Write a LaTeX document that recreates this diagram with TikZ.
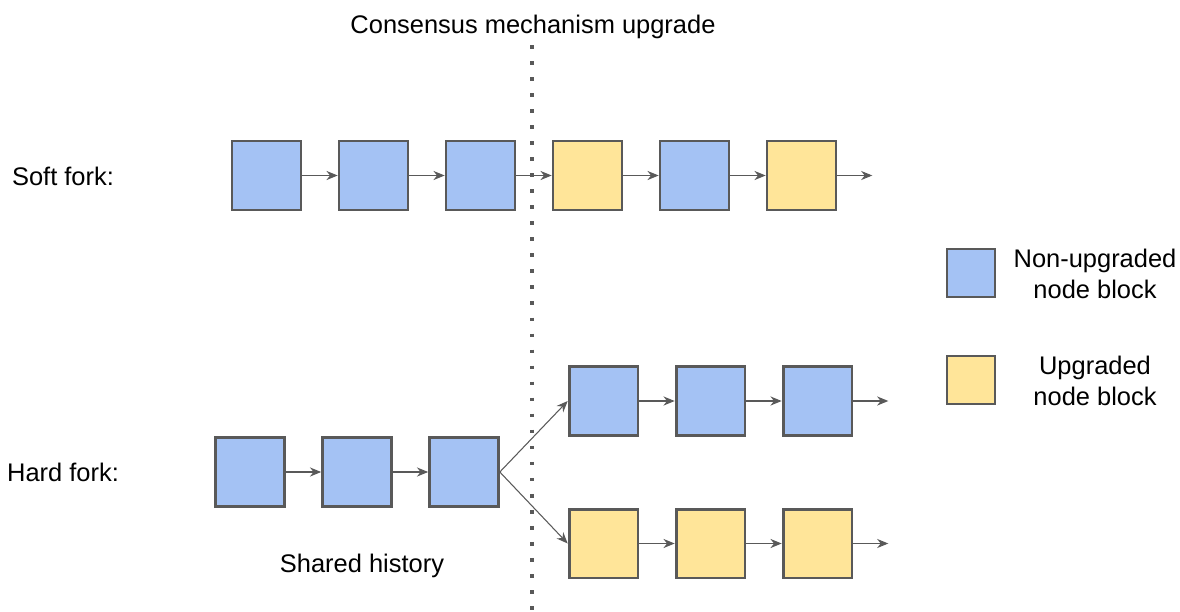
\documentclass[tikz,border=0pt]{standalone}
\usepackage{fontspec}
\setmainfont{Liberation Sans}
\usepackage{tikz}
\usetikzlibrary{arrows.meta, positioning}

\definecolor{oldblue}{HTML}{A4C2F4}
\definecolor{newyellow}{HTML}{FFE599}
\definecolor{edgegray}{HTML}{595959}

\begin{document}
\begin{tikzpicture}[
    x=0.025cm, y=-0.025cm,
    node distance=0.884cm,
    every node/.style={font=\fontsize{18.1}{22}\selectfont},
    block/.style={rectangle, draw=edgegray, line width=2pt, minimum size=1.72cm, inner sep=0pt},
    oldblock/.style={block, fill=oldblue},
    newblock/.style={block, fill=newyellow},
    keybox/.style={rectangle, draw=edgegray, line width=2pt, minimum size=1.2cm, inner sep=0pt},
    link/.style={draw=edgegray, line width=0.75pt, -{Stealth[length=8pt, width=6.5pt]}}
]
    \path[use as bounding box] (0,0) rectangle (1180,612);

    % Upgrade line
    \node (title) at (533,27) {Consensus mechanism upgrade};
    \coordinate (top) at (532,45);
    \coordinate (bot) at (532,612);
    \draw [edgegray, line width=2.6pt, dash pattern=on 2.6pt off 8.8pt] (top) -- (bot);

    % Soft fork
    \node (softlbl) at (63,176) {Soft fork:};
    \node (s1) [oldblock] at (266.5,175.5) {};
    \node (s2) [oldblock, right=of s1] {};
    \node (s3) [oldblock, right=of s2] {};
    \node (s4) [newblock, right=of s3] {};
    \node (s5) [oldblock, right=of s4] {};
    \node (s6) [newblock, right=of s5] {};
    \coordinate [right=0.875cm of s6.east] (send);

    \draw [link] (s1) -- (s2);
    \draw [link] (s2) -- (s3);
    \draw [link] (s3) -- (s4);
    \draw [link] (s4) -- (s5);
    \draw [link] (s5) -- (s6);
    \draw [link] (s6) -- (send);

    % Hard fork
    \node (hardlbl) at (63,472) {Hard fork:};
    \node (h1) [oldblock] at (250,472) {};
    \node (h2) [oldblock, right=of h1] {};
    \node (h3) [oldblock, right=of h2] {};
    \node (histlbl) at (362,566) {Shared history};

    \node (a1) [oldblock] at (603.5,401) {};
    \node (a2) [oldblock, right=of a1] {};
    \node (a3) [oldblock, right=of a2] {};
    \coordinate [right=0.875cm of a3.east] (aend);

    \node (b1) [newblock] at (603.5,543.5) {};
    \node (b2) [newblock, right=of b1] {};
    \node (b3) [newblock, right=of b2] {};
    \coordinate [right=0.875cm of b3.east] (bend);

    \draw [link] (h1) -- (h2);
    \draw [link] (h2) -- (h3);
    \draw [link] (h3.east) -- (a1.west);
    \draw [link] (h3.east) -- (b1.west);
    \draw [link] (a1) -- (a2);
    \draw [link] (a2) -- (a3);
    \draw [link] (a3) -- (aend);
    \draw [link] (b1) -- (b2);
    \draw [link] (b2) -- (b3);
    \draw [link] (b3) -- (bend);

    % Legend
    \node (keyold) [keybox, fill=oldblue] at (971,273) {};
    \node (keynew) [keybox, fill=newyellow] at (971,380) {};
    \node (keyoldtxt) [align=center] at (1095,274) {Non-upgraded\\node block};
    \node (keynewtxt) [align=center] at (1095,381) {Upgraded\\node block};
\end{tikzpicture}
\end{document}
